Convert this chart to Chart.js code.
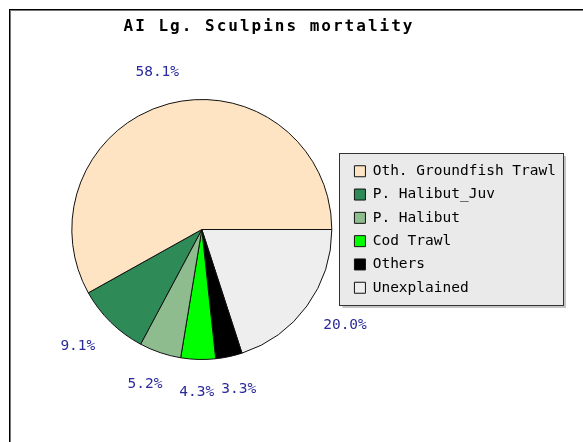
<!DOCTYPE html>
<html>
<head>
<meta charset="utf-8">
<script src="https://cdn.jsdelivr.net/npm/chart.js@4/dist/chart.umd.min.js"></script>
<style>
    html, body { margin: 0; padding: 0; background: #fff; overflow: hidden; }
    #wrap { position: relative; width: 583px; height: 442px; }
    #frame {
        position: absolute; left: 9px; top: 9px; width: 600px; height: 460px;
        border-top: 1px solid #000; border-left: 1px solid #000;
        box-shadow: inset 1px 1px 0 #777;
    }
    #chart { position: absolute; left: 0; top: 0; }
</style>
</head>
<body>
<div id="wrap">
    <div id="frame"></div>
    <canvas id="chart" width="583" height="442"></canvas>
</div>
<script>
/*
    AI Lg. Sculpins mortality - pie
*/
var chartTitle = 'AI Lg. Sculpins mortality';
var categories = ['Oth. Groundfish Trawl', 'P. Halibut_Juv', 'P. Halibut', 'Cod Trawl', 'Others', 'Unexplained'];
var shares = [58.1, 9.1, 5.2, 4.3, 3.3, 20.0];
var sliceColors = ['#ffe4c4', '#2e8b57', '#8fbc8f', '#00ff00', '#000000', '#eeeeee'];

var monoFont = '"DejaVu Sans Mono", "Liberation Mono", monospace';

// original pie runs counter-clockwise from 3 o'clock, chart.js goes clockwise,
// so feed the slices backwards and flip the legend back
var revLabels = categories.slice().reverse();
var revData = shares.slice().reverse();
var revColors = sliceColors.slice().reverse();

var legendBoxPlugin = {
    id: 'legendBox',
    beforeDraw: function(chart){
        var lg = chart.legend;
        if(!lg || !lg.legendHitBoxes || !lg.legendHitBoxes.length) return;
        var boxes = lg.legendHitBoxes;
        var ctx = chart.ctx;
        var left = boxes[0].left - 15;
        var right = lg.left + lg.width - 3;
        var top = boxes[0].top - 11;
        var last = boxes[boxes.length - 1];
        var bottom = last.top + last.height + 10;
        ctx.save();
        ctx.fillStyle = '#c4c4c4';
        ctx.fillRect(left + 3, top + 3, right - left, bottom - top);
        ctx.fillStyle = '#eaeaea';
        ctx.fillRect(left, top, right - left, bottom - top);
        ctx.strokeStyle = '#333';
        ctx.lineWidth = 1;
        ctx.strokeRect(Math.round(left) + 0.5, Math.round(top) + 0.5, Math.round(right - left), Math.round(bottom - top));
        ctx.restore();
    }
};

var sliceLabelPlugin = {
    id: 'sliceLabels',
    afterDatasetsDraw: function(chart){
        var ctx = chart.ctx;
        var meta = chart.getDatasetMeta(0);
        var values = chart.data.datasets[0].data;
        ctx.save();
        ctx.font = '14.5px ' + monoFont;
        ctx.fillStyle = '#2a2a9c';
        ctx.textAlign = 'center';
        ctx.textBaseline = 'middle';
        meta.data.forEach(function(arc, i){
            var p = arc.getProps(['x', 'y', 'startAngle', 'endAngle', 'outerRadius'], true);
            var mid = (p.startAngle + p.endAngle) / 2;
            var txt = values[i].toFixed(1) + '%';
            // labels sit a bit wider sideways than up/down
            var tx = p.x + Math.cos(mid) * (p.outerRadius + 47);
            var ty = p.y + Math.sin(mid) * (p.outerRadius + 33);
            ctx.fillText(txt, tx, ty);
        });
        ctx.restore();
    }
};

var titlePlugin = {
    id: 'spacedTitle',
    afterDraw: function(chart){
        var ctx = chart.ctx;
        ctx.save();
        ctx.font = 'bold 16px ' + monoFont;
        ctx.letterSpacing = '2px';
        ctx.fillStyle = '#000';
        ctx.textAlign = 'center';
        ctx.textBaseline = 'middle';
        ctx.fillText(chartTitle, 269, 27);
        ctx.restore();
    }
};

function drawPie(chartID){
    var chartStatus = Chart.getChart(chartID);
    if(chartStatus !== undefined){
        chartStatus.destroy();
    }
    var ctx = document.getElementById(chartID);

    var config = {
        type: 'pie',
        data: {
            labels: revLabels,
            datasets: [
                {
                    data: revData,
                    backgroundColor: revColors,
                    borderColor: '#111',
                    borderWidth: 1,
                    hoverOffset: 0,
                }
            ]
        },
        options: {
            responsive: false,
            maintainAspectRatio: false,
            animation: false,
            events: [],
            rotation: 90,
            layout: {
                padding: {
                    top: 99,
                    bottom: 82,
                    left: 58,
                    right: 17,
                }
            },
            plugins: {
                title: { display: false },
                tooltip: { enabled: false },
                legend: {
                    display: true,
                    position: 'right',
                    reverse: true,
                    labels: {
                        boxWidth: 11,
                        boxHeight: 11,
                        padding: 8.8,
                        color: '#000',
                        font: {
                            family: monoFont,
                            size: 14.5,
                        }
                    }
                }
            }
        },
        plugins: [legendBoxPlugin, sliceLabelPlugin, titlePlugin]
    };
    new Chart(ctx, config);
}

drawPie('chart');
</script>
</body>
</html>
